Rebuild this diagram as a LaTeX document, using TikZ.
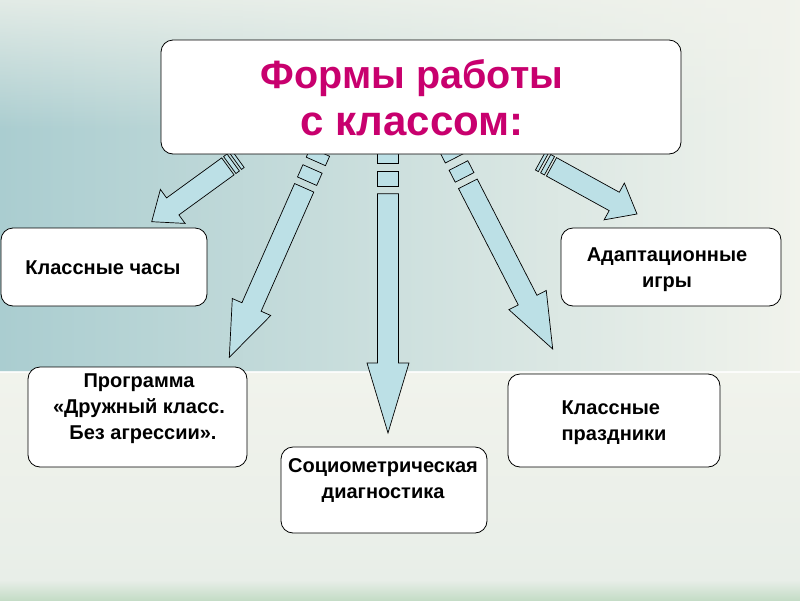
\documentclass[tikz,border=0pt]{standalone}
\usepackage{fontspec}
\setmainfont{Liberation Sans}
\usetikzlibrary{calc,fadings}

\definecolor{titlepink}{RGB}{200,0,110}
\definecolor{arrowblue}{RGB}{188,224,230}
\definecolor{bgteal}{RGB}{170,205,208}
\definecolor{bgmid}{RGB}{216,229,218}
\definecolor{bglight}{RGB}{241,243,236}
\definecolor{bglow}{RGB}{232,238,232}
\definecolor{bgband}{RGB}{196,220,198}

\tikzset{
  box/.style={draw=black, fill=white, rounded corners=12pt, line width=0.8pt, inner sep=0pt},
  boxtext/.style={font=\bfseries\fontsize{20}{26}\selectfont, align=center, inner sep=0pt},
  arrowpart/.style={draw=black, fill=arrowblue, line width=0.7pt, line join=miter},
}

% striped block arrow: tail, tip, head length, stripe unit
\newcommand{\stripedarrow}[4]{%
  \path[arrowpart] ($(#1)!0pt!(#2)!10.5pt!90:(#2)$) -- ($(#1)!#4!(#2)!10.5pt!90:(#2)$)
    -- ($(#1)!#4!(#2)!10.5pt!-90:(#2)$) -- ($(#1)!0pt!(#2)!10.5pt!-90:(#2)$) -- cycle;
  \path[arrowpart] ($(#1)!1.8*#4!(#2)!10.5pt!90:(#2)$) -- ($(#1)!3.1*#4!(#2)!10.5pt!90:(#2)$)
    -- ($(#1)!3.1*#4!(#2)!10.5pt!-90:(#2)$) -- ($(#1)!1.8*#4!(#2)!10.5pt!-90:(#2)$) -- cycle;
  \path[arrowpart] ($(#1)!3.8*#4!(#2)!10.5pt!90:(#2)$) -- ($(#2)!#3!(#1)!10.5pt!-90:(#1)$)
    -- ($(#2)!#3!(#1)!21pt!-90:(#1)$) -- (#2) -- ($(#2)!#3!(#1)!21pt!90:(#1)$)
    -- ($(#2)!#3!(#1)!10.5pt!90:(#1)$) -- ($(#1)!3.8*#4!(#2)!10.5pt!-90:(#2)$) -- cycle;
}

\begin{document}
\begin{tikzpicture}[x=1pt, y=-1pt]
  \useasboundingbox (0,0) rectangle (800,600);

  % background
  \fill[bglow] (0,0) rectangle (800,600);
  \shade[left color=bgteal, middle color=bgmid, right color=bglight] (0,0) rectangle (800,372);
  \fill[bglight, path fading=south, fill opacity=0.8] (0,0) rectangle (800,130);
  \shade[top color=bglight, bottom color=bglow] (0,372) rectangle (800,580);
  \draw[white, line width=2pt, opacity=0.8] (0,372) -- (800,372);
  \shade[top color=bglow, bottom color=bgband] (0,580) rectangle (800,600);

  % arrow ends
  \coordinate (tchasy) at (238,159);
  \coordinate (pchasy) at (151.7,221.7);
  \coordinate (tprog) at (320,152);
  \coordinate (pprog) at (229.3,357.3);
  \coordinate (tsocio) at (388,152);
  \coordinate (psocio) at (388,433);
  \coordinate (tprazd) at (450,149);
  \coordinate (pprazd) at (552.7,349);
  \coordinate (tadapt) at (540.5,160.8);
  \coordinate (padapt) at (637,214);

  \stripedarrow{tchasy}{pchasy}{26pt}{3.3pt}
  \stripedarrow{tprog}{pprog}{55pt}{10.3pt}
  \stripedarrow{tsocio}{psocio}{70pt}{11pt}
  \stripedarrow{tprazd}{pprazd}{55pt}{10.3pt}
  \stripedarrow{tadapt}{padapt}{26pt}{3.3pt}

  % boxes
  \node[box, minimum width=520pt, minimum height=114pt] (title) at (421,97) {};
  \node[font=\bfseries\fontsize{39.5}{47}\selectfont, text=titlepink, align=center, inner sep=0pt]
    (titletext) at (412,98) {Формы работы\\{\fontsize{42}{47}\selectfont с классом:}};

  \node[box, minimum width=206pt, minimum height=78pt] (chasy) at (104,267) {};
  \node[boxtext] (chasytext) at (103,268) {Классные часы};

  \node[box, minimum width=220pt, minimum height=78pt] (adapt) at (671,267) {};
  \node[boxtext] (adapttext) at (667,270) {Адаптационные\\игры};

  \node[box, minimum width=219pt, minimum height=100pt] (prog) at (137.5,417) {};
  \node[boxtext] (progtext) at (139,409) {Программа\\«Дружный класс.\\\hspace*{8pt}Без агрессии».};

  \node[box, minimum width=206pt, minimum height=86pt] (socio) at (384,490) {};
  \node[boxtext] (sociotext) at (383,480.5) {Социометрическая\\диагностика};

  \node[box, minimum width=212pt, minimum height=93pt] (prazd) at (614,420.5) {};
  \node[boxtext, align=left] (prazdtext) at (614,422.5) {Классные\\праздники};
\end{tikzpicture}
\end{document}
